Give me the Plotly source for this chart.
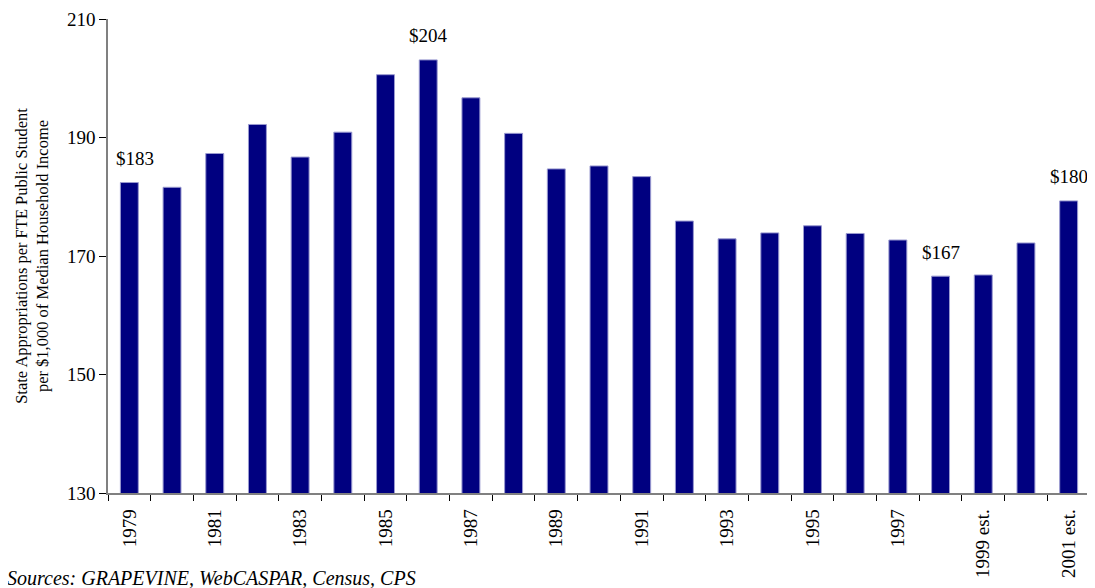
import plotly.graph_objects as go

years = ["1979", "1980", "1981", "1982", "1983", "1984", "1985", "1986", "1987", "1988",
         "1989", "1990", "1991", "1992", "1993", "1994", "1995", "1996", "1997", "1998",
         "1999 est.", "2000 est.", "2001 est."]
values = [182.4, 181.6, 187.3, 192.2, 186.7, 190.9, 200.6, 203.1, 196.7, 190.7,
          184.7, 185.2, 183.4, 175.9, 172.9, 173.9, 175.1, 173.8, 172.7, 166.6,
          166.8, 172.2, 179.3]
tick_labels = ["1979", "", "1981", "", "1983", "", "1985", "", "1987", "",
               "1989", "", "1991", "", "1993", "", "1995", "", "1997", "",
               "1999 est.", "", "2001 est."]
bar_labels = ["$183", "", "", "", "", "", "", "$204", "", "",
              "", "", "", "", "", "", "", "", "", "$167",
              "", "", "$180"]
y_ticks = [130, 150, 170, 190, 210]

FONT = "Liberation Serif"

fig = go.Figure()
fig.add_trace(go.Bar(
    x=years, y=values,
    marker=dict(color="#000080", line=dict(color="#9a9ad0", width=1)),
    hoverinfo="x+y",
))

for i, (v, lab) in enumerate(zip(values, bar_labels)):
    if lab:
        fig.add_annotation(
            x=i, y=v, text=lab, showarrow=False,
            yanchor="middle", yshift=24, xshift=6 if i == 0 else 0,
            font=dict(family=FONT, size=19, color="#000000"),
        )

fig.update_layout(
    width=1087, height=580,
    margin=dict(l=100, r=5, t=11, b=95),
    paper_bgcolor="white", plot_bgcolor="white",
    bargap=0.58,
    showlegend=False,
    font=dict(family=FONT, color="#000000"),
)
fig.update_xaxes(
    type="category",
    range=[-0.5, len(years) - 0.5],
    tickvals=years, ticktext=tick_labels,
    tickson="boundaries",
    ticks="outside", ticklen=6, tickcolor="#000000", tickwidth=1,
    tickangle=-90, ticklabelstandoff=7,
    tickfont=dict(family=FONT, size=19, color="#000000"),
    showline=True, linecolor="#808080", linewidth=1.5,
    showgrid=False, zeroline=False,
    automargin=False,
)
fig.update_yaxes(
    range=[130, 210],
    tickvals=y_ticks,
    ticks="outside", ticklen=7, tickcolor="#000000", tickwidth=1,
    tickfont=dict(family=FONT, size=19, color="#000000"),
    showline=True, linecolor="#808080", linewidth=1.5,
    showgrid=False, zeroline=False,
    automargin=False,
    title=dict(text="State Appropriations per FTE Public Student<br>per $1,000 of Median Household Income",
               font=dict(family=FONT, size=16.5, color="#000000"), standoff=14),
)
fig.add_annotation(
    text="<i>Sources: GRAPEVINE, WebCASPAR, Census, CPS</i>",
    xref="paper", yref="paper", x=-0.105, y=-0.179,
    xanchor="left", yanchor="middle", showarrow=False,
    font=dict(family=FONT, size=20, color="#000000"),
)

fig.write_html("out.html")
